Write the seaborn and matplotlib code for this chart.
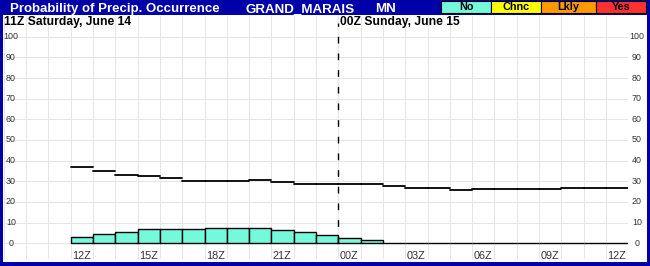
import numpy as np
import pandas as pd
import matplotlib
matplotlib.use("Agg")
import matplotlib.pyplot as plt
from matplotlib.patches import Rectangle
import seaborn as sns

# ---------------- data ----------------
# hours after 12Z Saturday (each value covers one hour bin)
hours = list(range(25))
pop_bars = [3, 4.4, 5.3, 6.8, 6.8, 6.8, 7.3, 7.3, 7.3, 6.3, 5.3, 3.9,
            2.7, 1.5, 0, 0, 0, 0, 0, 0, 0, 0, 0, 0, 0]
pop_line = [37, 35, 33, 32.5, 31.5, 30, 30, 30, 30.5, 29.5, 28.5, 28.5,
            28.5, 28.5, 27.5, 27, 27, 26, 26.5, 26.5, 26.5, 26.5, 27, 27, 27]
xtick_pos = [0, 3, 6, 9, 12, 15, 18, 21, 24]
xtick_labels = ["12Z", "15Z", "18Z", "21Z", "00Z", "03Z", "06Z", "09Z", "12Z"]
ytick_vals = list(range(0, 101, 10))
day_labels = ["11Z Saturday, June 14", "00Z Sunday, June 15"]
legend_names = ["No", "Chnc", "Lkly", "Yes"]
legend_colors = ["#74FADB", "#FFFF00", "#FF9900", "#FF3030"]
title = "Probability of Precip. Occurrence"
station = "GRAND_MARAIS"
state = "MN"

# ---------------- style ----------------
sns.set_theme(style="white")
plt.rcParams["font.family"] = ["Liberation Sans", "DejaVu Sans"]

W, H = 650, 266
BLUE = "#0000A8"
fig = plt.figure(figsize=(W / 100, H / 100), dpi=100, facecolor=BLUE)


def fx(px):
    return px / W


def fy(py):
    return 1 - py / H


# white panel
fig.add_artist(Rectangle((fx(3), fy(262)), (647 - 3) / W, (262 - 15) / H,
                         transform=fig.transFigure, facecolor="white",
                         edgecolor="none", zorder=0))

# main axes (pixel 3.8..628.2 horizontally, 16..259 vertically)
ax = fig.add_axes([fx(3.8), fy(259), (628.2 - 3.8) / W, (259 - 16) / H])
ax.set_facecolor("white")
for s in ax.spines.values():
    s.set_visible(False)

# bars (hourly bins)
bars_df = pd.DataFrame({"center": [h + 0.5 for h in hours], "pop": pop_bars})
sns.histplot(data=bars_df, x="center", weights="pop", bins=len(hours),
             binrange=(0, len(hours)),
             color=legend_colors[0], edgecolor="black", linewidth=1.0,
             alpha=1, ax=ax, zorder=3)

# step segments
seg = pd.DataFrame({
    "x": [v for h in hours for v in (h, h + 1)],
    "y": [v for val in pop_line for v in (val, val)],
    "seg": [h for h in hours for _ in (0, 1)],
})
sns.lineplot(data=seg, x="x", y="y", units="seg", estimator=None,
             color="black", linewidth=1.3, ax=ax, zorder=4, legend=False)

# dashed day separator
ax.vlines(12, 0, 106.6, colors="black", linestyles=(0, (4.8, 7.2)),
          linewidth=1.0, zorder=5)

ax.set_xlim(-3, 25)
ax.set_ylim(-7.6, 110.0)
ax.set_xticks(range(-3, 26))
ax.set_yticks(ytick_vals)
ax.grid(True, color="#E6E6E6", linewidth=0.75, zorder=0)
ax.set_axisbelow(True)
ax.tick_params(length=0, labelbottom=False, labelleft=False)
ax.set_xlabel("")
ax.set_ylabel("")

# x labels (inside bottom)
for pos, lab in zip(xtick_pos, xtick_labels):
    ax.text(pos + 0.07, -6.15, lab, ha="left", va="center",
            fontsize=7.8, color="#333333", zorder=6)

# y labels on both sides
for v in ytick_vals:
    fig.text(fx(11), fy(243.3 - v * 2.066), str(v), ha="center", va="center",
             fontsize=6.4, color="#333333")
    fig.text(fx(637), fy(243.3 - v * 2.066), str(v), ha="center", va="center",
             fontsize=6.4, color="#333333")

# day labels
fig.text(fx(4), fy(24.5), day_labels[0], ha="left", va="baseline",
         fontsize=8.7, fontweight="bold", color="black")
fig.text(fx(340), fy(24.5), day_labels[1], ha="left", va="baseline",
         fontsize=8.7, fontweight="bold", color="black")

# title band texts
fig.text(fx(10), fy(12.3), title, ha="left", va="baseline",
         fontsize=9.5, fontweight="bold", color="white")
fig.text(fx(246), fy(12.3), station, ha="left", va="baseline",
         fontsize=9.6, fontweight="bold", color="white")
fig.text(fx(375), fy(12.3), state, ha="left", va="baseline",
         fontsize=9.6, fontweight="bold", color="white")

# legend boxes
edges = [441, 491, 541, 595.5, 646]
for i, (name, col) in enumerate(zip(legend_names, legend_colors)):
    x0, x1 = edges[i], edges[i + 1]
    fig.add_artist(Rectangle((fx(x0), fy(12.8)), (x1 - x0) / W, 11.8 / H,
                             transform=fig.transFigure, facecolor=col,
                             edgecolor="black", linewidth=0.8, zorder=2))
    fig.text(fx((x0 + x1) / 2), fy(10.5), name, ha="center", va="baseline",
             fontsize=7.8, fontweight="bold", color="black", zorder=3)

fig.savefig("out.png", dpi=100, facecolor=BLUE)
